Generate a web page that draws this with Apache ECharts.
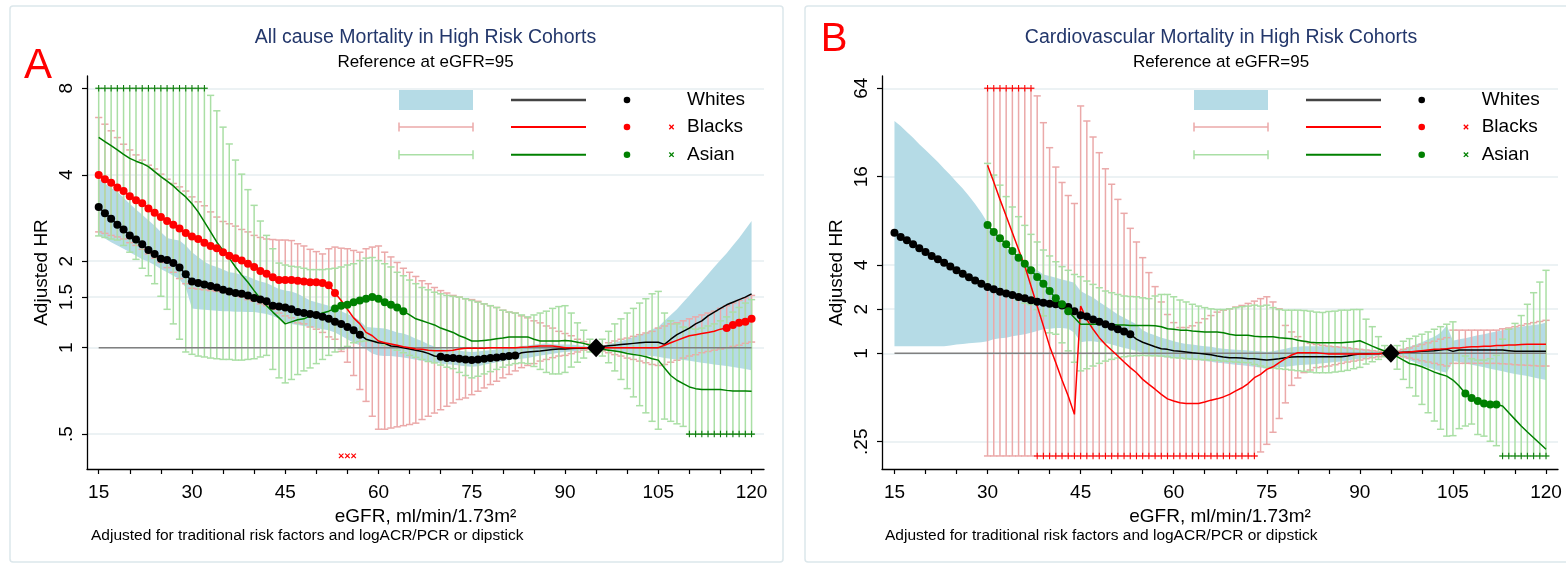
<!DOCTYPE html>
<html><head><meta charset="utf-8">
<script src="https://cdn.jsdelivr.net/npm/echarts@6/dist/echarts.min.js"></script>
<style>html,body{margin:0;padding:0;background:#fff}#c{width:1566px;height:566px}</style>
</head><body><div id="c"></div>
<script>
// eGFR grid points (ml/min/1.73m2)
const egfr = [15,16,17,18,19,20,21,22,23,24,25,26,27,28,29,30,31,32,33,34,35,36,37,38,39,40,41,42,43,44,
45,46,47,48,49,50,51,52,53,54,55,56,57,58,59,60,61,62,63,64,65,66,67,68,69,70,71,72,73,74,
75,76,77,78,79,80,81,82,83,84,85,86,87,88,89,90,91,92,93,94,95,96,97,98,99,100,101,102,103,104,
105,106,107,108,109,110,111,112,113,114,115,116,117,118,119,120];

const xLabelTicks = [15,30,45,60,75,90,105,120];
const xAllTicks = [15,20,25,30,35,40,45,50,55,60,65,70,75,80,85,90,95,100,105,110,115,120];
const yTicksA = [0.5,1,1.5,2,4,8];
const yLabelsA = ['.5','1','1.5','2','4','8'];
const yTicksB = [0.25,1,2,4,16,64];
const yLabelsB = ['.25','1','2','4','16','64'];

// ---------- Panel A: All cause mortality ----------
const whitesA_est = [3.09,2.94,2.81,2.68,2.58,2.46,2.38,2.29,2.19,2.12,
2.04,2.02,1.97,1.90,1.80,1.70,1.68,1.66,1.64,1.62,
1.59,1.57,1.55,1.54,1.52,1.49,1.47,1.45,1.40,1.39,
1.38,1.36,1.33,1.32,1.31,1.30,1.28,1.26,1.23,1.21,
1.18,1.15,1.11,1.07,1.055,1.04,1.035,1.013,1.01,1.0,
0.99,0.98,0.97,0.955,0.935,0.93,0.92,0.92,0.915,0.91,
0.905,0.91,0.915,0.92,0.925,0.93,0.935,0.94,0.96,0.965,
0.97,0.973,0.98,0.985,0.99,0.99,0.993,0.995,0.995,1.0,
1.0,1.01,1.015,1.02,1.025,1.03,1.035,1.04,1.045,1.045,
1.045,1.027,1.07,1.11,1.14,1.17,1.21,1.24,1.29,1.33,
1.37,1.41,1.44,1.47,1.50,1.54];
const whitesA_hi = [3.88,3.73,3.60,3.49,3.33,3.17,3.03,2.90,2.78,2.66,
2.53,2.41,2.38,2.36,2.27,2.15,2.07,1.99,1.94,1.91,
1.87,1.83,1.82,1.79,1.77,1.73,1.70,1.68,1.64,1.60,
1.58,1.57,1.54,1.50,1.46,1.44,1.42,1.40,1.37,1.34,
1.31,1.28,1.24,1.18,1.175,1.17,1.165,1.15,1.13,1.12,
1.10,1.075,1.055,1.027,1.01,0.99,0.985,0.98,0.975,0.97,
0.965,0.97,0.975,0.98,0.985,0.99,0.995,0.998,1.013,1.018,
1.025,1.03,1.035,1.027,1.025,1.025,1.025,1.02,1.013,1.008,
1.0,1.013,1.03,1.04,1.055,1.07,1.09,1.11,1.13,1.16,
1.18,1.24,1.30,1.36,1.44,1.52,1.61,1.70,1.80,1.91,
2.02,2.13,2.27,2.41,2.58,2.76];
const whitesA_lo = [2.46,2.40,2.33,2.27,2.21,2.15,2.09,2.03,1.99,1.94,
1.88,1.83,1.78,1.73,1.62,1.37,1.36,1.355,1.35,1.345,
1.34,1.338,1.335,1.335,1.33,1.33,1.32,1.31,1.29,1.26,
1.23,1.21,1.20,1.19,1.18,1.17,1.16,1.15,1.13,1.10,
1.07,1.04,1.02,0.987,0.955,0.94,0.935,0.935,0.93,0.925,
0.917,0.907,0.90,0.892,0.887,0.88,0.875,0.872,0.867,0.862,
0.858,0.862,0.872,0.88,0.89,0.897,0.905,0.91,0.915,0.92,
0.93,0.94,0.945,0.953,0.96,0.965,0.97,0.975,0.98,0.99,
1.0,0.987,0.98,0.97,0.965,0.96,0.952,0.945,0.94,0.935,
0.93,0.92,0.915,0.91,0.905,0.90,0.893,0.886,0.88,0.874,
0.868,0.863,0.856,0.85,0.843,0.835];

const blacksA_est = [3.99,3.86,3.75,3.61,3.51,3.37,3.26,3.18,3.05,2.95,
2.85,2.76,2.68,2.60,2.51,2.44,2.39,2.32,2.26,2.22,
2.15,2.09,2.05,2.01,1.96,1.91,1.85,1.81,1.76,1.72,
1.72,1.72,1.71,1.70,1.69,1.69,1.68,1.65,1.55,1.46,
1.36,1.27,1.21,1.13,1.10,1.055,1.04,1.03,1.02,1.008,
1.0,0.99,0.987,0.98,0.976,0.976,0.976,0.98,0.99,0.995,
0.995,0.995,0.995,1.0,1.0,1.0,1.0,1.0,1.003,1.005,
1.01,1.013,1.013,1.013,1.008,1.0,1.0,1.0,1.0,1.0,
1.0,1.0,1.0,1.0,1.0,1.0,1.0,1.0,1.0,1.0,
1.0,1.02,1.04,1.06,1.08,1.10,1.11,1.12,1.13,1.14,
1.16,1.17,1.20,1.22,1.23,1.26];
const blacksA_hi = [6.33,6.00,5.69,5.39,5.11,4.88,4.69,4.50,4.32,4.19,
4.02,3.86,3.73,3.63,3.51,3.35,3.22,3.12,2.97,2.85,
2.75,2.70,2.65,2.58,2.53,2.46,2.42,2.39,2.38,2.37,
2.37,2.36,2.30,2.26,2.20,2.16,2.12,2.21,2.24,2.22,
2.21,2.18,2.15,2.21,2.24,2.26,2.15,2.07,1.98,1.89,
1.83,1.77,1.71,1.67,1.62,1.58,1.55,1.52,1.50,1.48,
1.47,1.45,1.42,1.40,1.38,1.35,1.33,1.32,1.29,1.27,
1.24,1.22,1.19,1.17,1.14,1.12,1.10,1.07,1.05,1.03,
1.0,1.013,1.04,1.055,1.07,1.08,1.095,1.11,1.125,1.14,
1.17,1.19,1.21,1.22,1.24,1.26,1.28,1.30,1.32,1.34,
1.37,1.40,1.43,1.46,1.49,1.52];
const blacksA_lo = [2.53,2.50,2.46,2.43,2.39,2.32,2.27,2.20,2.12,2.05,
1.98,1.90,1.83,1.74,1.67,1.61,1.60,1.59,1.58,1.57,
1.56,1.54,1.52,1.50,1.47,1.45,1.42,1.40,1.36,1.32,
1.29,1.27,1.22,1.21,1.18,1.16,1.13,1.09,1.07,0.97,
0.89,0.80,0.715,0.65,0.577,0.52,0.52,0.525,0.53,0.535,
0.54,0.546,0.562,0.577,0.592,0.608,0.625,0.642,0.66,0.668,
0.686,0.705,0.724,0.744,0.764,0.785,0.807,0.83,0.852,0.867,
0.88,0.898,0.91,0.923,0.935,0.94,0.953,0.966,0.98,0.987,
1.0,0.974,0.96,0.946,0.935,0.92,0.91,0.898,0.886,0.874,
0.867,0.874,0.89,0.904,0.92,0.935,0.945,0.96,0.97,0.98,
0.99,1.0,1.01,1.02,1.035,1.046];

const asianA_est = [5.40,5.22,5.05,4.88,4.71,4.56,4.46,4.38,4.27,4.10,
3.94,3.80,3.66,3.49,3.35,3.17,2.97,2.74,2.53,2.33,
2.18,2.05,1.91,1.79,1.69,1.58,1.48,1.40,1.33,1.27,
1.21,1.23,1.25,1.26,1.29,1.30,1.32,1.34,1.37,1.40,
1.41,1.44,1.46,1.48,1.50,1.48,1.44,1.41,1.38,1.34,
1.30,1.26,1.24,1.22,1.20,1.17,1.15,1.13,1.10,1.08,
1.055,1.055,1.06,1.065,1.075,1.08,1.09,1.09,1.09,1.09,
1.07,1.055,1.055,1.055,1.055,1.06,1.055,1.045,1.035,1.02,
1.0,0.987,0.98,0.973,0.965,0.955,0.947,0.94,0.93,0.915,
0.905,0.85,0.80,0.77,0.75,0.73,0.72,0.715,0.715,0.715,
0.715,0.71,0.706,0.706,0.706,0.705];
const asianA_hi = [8,8,8,8,8,8,8,8,8,8,
8,8,8,8,8,8,8,8,7.56,6.68,
5.86,5.12,4.50,4.02,3.55,3.13,2.76,2.46,2.21,1.97,
1.94,1.92,1.91,1.89,1.87,1.87,1.87,1.88,1.89,1.91,
1.94,1.96,2.01,2.05,2.06,2.01,1.96,1.91,1.83,1.78,
1.72,1.67,1.62,1.59,1.56,1.54,1.52,1.51,1.50,1.48,
1.46,1.44,1.42,1.40,1.38,1.35,1.33,1.32,1.30,1.28,
1.30,1.32,1.34,1.37,1.39,1.40,1.32,1.22,1.15,1.07,
1.0,1.07,1.14,1.21,1.26,1.32,1.37,1.43,1.48,1.54,
1.57,1.32,1.24,1.21,1.18,1.17,1.16,1.17,1.19,1.21,
1.24,1.28,1.33,1.38,1.43,1.47];
const asianA_lo = [2.45,2.42,2.39,2.37,2.27,2.15,2.03,1.89,1.78,1.67,
1.51,1.36,1.21,1.07,0.966,0.948,0.935,0.928,0.92,0.915,
0.91,0.91,0.905,0.905,0.91,0.915,0.928,0.94,0.84,0.785,
0.754,0.775,0.806,0.83,0.85,0.88,0.91,0.94,0.966,0.99,
1.01,1.04,1.05,1.055,1.055,1.04,1.02,1.0,0.98,0.96,
0.94,0.925,0.91,0.895,0.885,0.87,0.855,0.845,0.82,0.80,
0.785,0.795,0.81,0.825,0.84,0.855,0.87,0.88,0.885,0.88,
0.86,0.84,0.82,0.81,0.81,0.82,0.856,0.89,0.92,0.966,
1.0,0.935,0.886,0.83,0.775,0.72,0.674,0.628,0.593,0.554,
0.52,0.564,0.554,0.543,0.532,0.5,0.5,0.5,0.5,0.5,
0.5,0.5,0.5,0.5,0.5,0.5];

// significant points (drawn as dots): ranges of eGFR
const whitesDotsA = [[15,57],[70,82]];
const blacksDotsA = [[15,53],[116,120]];
const asianDotsA = [[53,64]];
// CI truncation markers
const asianTopA = [15,16,17,18,19,20,21,22,23,24,25,26,27,28,29,30,31,32];  // at 8
const asianBotA = [110,111,112,113,114,115,116,117,118,119,120];            // at .5
const blacksCrossA = [54,55,56];                                            // at .42

// ---------- Panel B: Cardiovascular mortality ----------
const whitesB_est = [6.64,6.21,5.89,5.53,5.20,4.91,4.61,4.37,4.15,3.90,
3.68,3.49,3.30,3.14,2.98,2.83,2.73,2.63,2.56,2.50,
2.42,2.37,2.30,2.25,2.21,2.18,2.16,2.12,2.07,1.94,
1.82,1.78,1.70,1.64,1.58,1.52,1.46,1.41,1.35,1.25,
1.19,1.15,1.11,1.076,1.065,1.043,1.032,1.021,1.01,1.0,
0.99,0.98,0.959,0.944,0.934,0.934,0.929,0.92,0.92,0.91,
0.90,0.91,0.92,0.934,0.944,0.949,0.949,0.949,0.949,0.949,
0.949,0.949,0.949,0.959,0.98,0.99,0.99,0.995,0.995,1.0,
1.0,1.01,1.016,1.021,1.026,1.032,1.037,1.043,1.054,1.065,
1.032,1.054,1.054,1.054,1.054,1.054,1.054,1.054,1.054,1.043,
1.032,1.032,1.032,1.032,1.032,1.032];
const whitesB_hi = [38.3,35.4,32.2,29.5,26.6,24.3,22.1,20.1,18.1,16.4,
14.7,13.3,11.8,10.4,9.09,7.77,6.64,5.83,5.25,4.85,
4.49,4.15,3.90,3.68,3.45,3.37,3.28,3.19,3.11,3.03,
2.66,2.52,2.40,2.24,2.10,1.97,1.84,1.75,1.66,1.58,
1.44,1.37,1.33,1.28,1.25,1.21,1.18,1.16,1.15,1.13,
1.12,1.11,1.09,1.076,1.065,1.059,1.054,1.048,1.037,1.032,
1.021,1.032,1.054,1.076,1.099,1.11,1.12,1.12,1.12,1.12,
1.12,1.12,1.11,1.11,1.09,1.076,1.065,1.054,1.037,1.021,
1.0,1.037,1.076,1.11,1.15,1.19,1.25,1.30,1.38,1.55,
1.22,1.25,1.27,1.30,1.33,1.35,1.38,1.41,1.44,1.47,
1.50,1.52,1.54,1.56,1.58,1.62];
const whitesB_lo = [1.12,1.12,1.12,1.12,1.12,1.12,1.12,1.12,1.12,1.13,
1.15,1.16,1.17,1.18,1.19,1.21,1.25,1.27,1.28,1.31,
1.33,1.35,1.38,1.42,1.46,1.47,1.49,1.49,1.47,1.38,
1.19,1.21,1.21,1.19,1.18,1.15,1.12,1.09,1.065,1.037,
1.01,0.969,0.959,0.949,0.934,0.929,0.92,0.91,0.90,0.896,
0.886,0.877,0.864,0.855,0.846,0.837,0.829,0.82,0.811,0.799,
0.786,0.795,0.803,0.811,0.82,0.829,0.837,0.841,0.846,0.855,
0.864,0.873,0.882,0.891,0.91,0.92,0.934,0.949,0.969,0.984,
1.0,0.969,0.934,0.90,0.864,0.829,0.799,0.778,0.754,0.738,
0.886,0.873,0.855,0.837,0.82,0.803,0.786,0.77,0.754,0.738,
0.723,0.712,0.70,0.686,0.672,0.658];

const blacksB_est = [null,null,null,null,null,null,null,null,null,null,
null,null,null,null,null,19.1,14.7,11.2,8.63,6.64,
5.11,3.94,2.88,2.10,1.54,1.12,0.864,0.658,0.512,0.384,
2.10,1.70,1.46,1.28,1.15,1.05,0.96,0.873,0.80,0.738,
0.665,0.615,0.57,0.526,0.49,0.474,0.461,0.456,0.456,0.456,
0.466,0.48,0.49,0.505,0.526,0.555,0.583,0.623,0.683,0.72,
0.778,0.81,0.864,0.92,0.975,1.01,1.01,1.01,1.01,1.0,
0.99,0.99,0.99,0.99,0.99,0.99,0.99,0.995,0.995,1.0,
1.0,1.01,1.016,1.021,1.032,1.043,1.054,1.065,1.07,1.076,
1.087,1.09,1.099,1.11,1.11,1.12,1.12,1.13,1.13,1.14,
1.14,1.15,1.155,1.155,1.155,1.155];
const blacksB_hi = [null,null,null,null,null,null,null,null,null,null,
null,null,null,null,null,64,64,64,64,64,
64,64,64,56.8,37.3,25.2,18.6,14.6,11.9,10.5,
48.5,38.3,29.8,23.3,18.1,14.2,11.2,9.0,7.11,5.74,
4.49,3.55,2.85,2.24,1.84,1.62,1.50,1.50,1.54,1.62,
1.72,1.81,1.91,1.97,2.01,2.07,2.12,2.19,2.27,2.36,
2.43,2.24,2.01,1.55,1.40,1.30,1.21,1.17,1.15,1.135,
1.12,1.11,1.10,1.09,1.076,1.065,1.054,1.043,1.032,1.016,
1.0,1.037,1.065,1.09,1.12,1.15,1.18,1.21,1.25,1.28,
1.44,1.44,1.44,1.44,1.44,1.44,1.44,1.44,1.47,1.49,
1.52,1.55,1.59,1.62,1.65,1.68];
const blacksB_lo = [null,null,null,null,null,null,null,null,null,null,
null,null,null,null,null,0.2,0.2,0.2,0.2,0.2,
0.2,0.2,0.2,0.2,0.2,0.2,0.2,0.2,0.2,0.2,
0.2,0.2,0.2,0.2,0.2,0.2,0.2,0.2,0.2,0.2,
0.2,0.2,0.2,0.2,0.2,0.2,0.2,0.2,0.2,0.2,
0.2,0.2,0.2,0.2,0.2,0.2,0.2,0.2,0.2,0.213,
0.24,0.29,0.36,0.46,0.605,0.68,0.74,0.77,0.80,0.81,
0.82,0.837,0.855,0.873,0.886,0.90,0.92,0.934,0.949,0.969,
1.0,0.969,0.949,0.929,0.91,0.891,0.873,0.855,0.837,0.82,
0.855,0.855,0.855,0.855,0.855,0.855,0.855,0.855,0.85,0.846,
0.837,0.833,0.829,0.825,0.82,0.82];

const asianB_est = [null,null,null,null,null,null,null,null,null,null,
null,null,null,null,null,7.49,6.71,6.08,5.53,4.98,
4.49,4.08,3.68,3.31,2.98,2.66,2.37,2.16,1.94,1.75,
1.58,1.58,1.58,1.58,1.57,1.57,1.56,1.56,1.55,1.55,
1.55,1.55,1.54,1.52,1.47,1.46,1.44,1.44,1.42,1.41,
1.40,1.40,1.40,1.38,1.35,1.33,1.33,1.33,1.31,1.30,
1.30,1.30,1.28,1.27,1.26,1.23,1.21,1.19,1.18,1.18,
1.18,1.18,1.18,1.19,1.20,1.22,1.17,1.12,1.076,1.037,
1.0,0.95,0.90,0.853,0.837,0.81,0.778,0.745,0.72,0.70,
0.658,0.60,0.533,0.496,0.473,0.456,0.449,0.449,0.438,0.394,
0.355,0.32,0.291,0.266,0.243,0.222];
const asianB_hi = [null,null,null,null,null,null,null,null,null,null,
null,null,null,null,null,19.7,16.4,14.0,11.7,9.94,
8.54,7.45,6.47,5.74,5.06,4.61,4.21,3.90,3.68,3.45,
3.33,3.11,2.95,2.80,2.66,2.59,2.52,2.46,2.44,2.43,
2.39,2.36,2.46,2.52,2.52,2.43,2.31,2.24,2.16,2.10,
2.05,2.01,1.99,1.99,2.01,2.05,2.08,2.10,2.13,2.10,
2.13,2.05,1.99,1.97,1.97,1.97,1.96,1.94,1.91,1.90,
1.93,1.94,1.97,1.97,1.99,1.99,1.71,1.52,1.30,1.13,
1.0,1.13,1.21,1.26,1.31,1.35,1.40,1.46,1.52,1.58,
1.64,1.05,0.96,0.92,0.90,0.90,0.92,0.97,1.25,1.46,
1.60,1.81,2.16,2.59,3.06,3.68];
const asianB_lo = [null,null,null,null,null,null,null,null,null,null,
null,null,null,null,null,2.9,2.75,2.6,2.5,2.4,
2.3,2.2,2.15,1.99,1.80,1.38,1.35,1.18,1.04,0.87,
0.76,0.786,0.82,0.855,0.886,0.91,0.93,0.949,0.959,0.964,
0.969,0.964,0.962,0.959,0.95,0.934,0.93,0.92,0.915,0.91,
0.905,0.90,0.895,0.886,0.88,0.873,0.868,0.864,0.84,0.82,
0.803,0.795,0.786,0.778,0.77,0.762,0.754,0.746,0.738,0.738,
0.738,0.746,0.754,0.766,0.786,0.803,0.846,0.877,0.91,0.949,
1.0,0.78,0.665,0.584,0.512,0.449,0.394,0.346,0.304,0.273,
0.275,0.307,0.32,0.33,0.28,0.273,0.252,0.235,0.2,0.2,
0.2,0.2,0.2,0.2,0.2,0.2];

const whitesDotsB = [[15,53]];
const blacksDotsB = [];
const asianDotsB = [[30,43],[107,112]];
const blacksTopB = [30,31,32,33,34,35,36,37];                 // at 64
const blacksBotB = [38,39,40,41,42,43,44,45,46,47,48,49,50,51,52,53,54,55,56,
57,58,59,60,61,62,63,64,65,66,67,68,69,70,71,72,73];           // at .2
const asianBotB = [113,114,115,116,117,118,119,120];          // at .2

const refPoint = [95, 1];
const refLine = [[15, 1], [120, 1]];

// ---------------- rendering ----------------
const FONT = "'Liberation Sans', Arial, sans-serif";
const C = {black:'#000000', red:'#ff0000', green:'#008000', pink:'#eba9a9', lgreen:'#aadfa5',
  band:'#b5dbe6', grid:'#e6eef1', title:'#23376b', ref:'#808080', frame:'#dce7eb'};
const PLUS = 'path://M2.5,0h1v2.5h2.5v1h-2.5v2.5h-1v-2.5h-2.5v-1h2.5z';

function pairs(est){ const out=[]; egfr.forEach((x,i)=>{ if(est[i]!=null) out.push([x,est[i]]); }); return out; }
function triples(lo,hi){ const out=[]; egfr.forEach((x,i)=>{ if(lo[i]!=null&&hi[i]!=null) out.push([x,lo[i],hi[i]]); }); return out; }
function dots(est, ranges){ const out=[]; egfr.forEach((x,i)=>{ if(est[i]==null) return; for(const r of ranges){ if(x>=r[0]&&x<=r[1]){ out.push([x,est[i]]); break; } } }); return out; }
function marks(xs, y){ return xs.map(x=>[x,y]); }

function barRender(color){
  return function(params, api){
    const x=api.value(0), lo=api.value(1), hi=api.value(2);
    const a=api.coord([x,hi]), b=api.coord([x,lo]);
    const hw=3.6, st={stroke:color, lineWidth:1.5};
    return {type:'group', children:[
      {type:'line', shape:{x1:a[0],y1:a[1],x2:b[0],y2:b[1]}, style:st},
      {type:'line', shape:{x1:a[0]-hw,y1:a[1],x2:a[0]+hw,y2:a[1]}, style:st},
      {type:'line', shape:{x1:b[0]-hw,y1:b[1],x2:b[0]+hw,y2:b[1]}, style:st}
    ]};
  };
}
function bandRender(lo, hi){
  return function(params, api){
    if(params.dataIndex!==0) return null;
    const pts=[];
    for(let i=0;i<egfr.length;i++) if(hi[i]!=null) pts.push(api.coord([egfr[i],hi[i]]));
    for(let i=egfr.length-1;i>=0;i--) if(lo[i]!=null) pts.push(api.coord([egfr[i],lo[i]]));
    return {type:'polygon', shape:{points:pts}, style:{fill:C.band}};
  };
}
function yFmt(ticks, labels){
  return function(v){ let bi=0; for(let i=0;i<ticks.length;i++){ if(Math.abs(Math.log(ticks[i]/v))<Math.abs(Math.log(ticks[bi]/v))) bi=i; } return labels[bi]; };
}

const panels = [
 {grid:{left:87,top:76,width:677,height:393}, xMin:13.12, xMax:122.0, yMin:0.378, yMax:8.83,
  yTicks:yTicksA, yLabels:yLabelsA,
  W:[whitesA_est,whitesA_lo,whitesA_hi], B:[blacksA_est,blacksA_lo,blacksA_hi], A:[asianA_est,asianA_lo,asianA_hi],
  dots:[whitesDotsA,blacksDotsA,asianDotsA],
  marks:[{d:marks(asianTopA,8),c:'#0b7a0b',r:0},{d:marks(asianBotA,0.5),c:'#0b7a0b',r:0},{d:marks(blacksCrossA,0.42),c:C.red,r:45}]},
 {grid:{left:882,top:76,width:676,height:393}, xMin:12.99, xMax:121.93, yMin:0.163, yMax:77.6,
  yTicks:yTicksB, yLabels:yLabelsB,
  W:[whitesB_est,whitesB_lo,whitesB_hi], B:[blacksB_est,blacksB_lo,blacksB_hi], A:[asianB_est,asianB_lo,asianB_hi],
  dots:[whitesDotsB,blacksDotsB,asianDotsB],
  marks:[{d:marks(blacksTopB,64),c:C.red,r:0},{d:marks(blacksBotB,0.2),c:C.red,r:0},{d:marks(asianBotB,0.2),c:'#0b7a0b',r:0}]}
];

const option = {animation:false, backgroundColor:'#fff', textStyle:{fontFamily:FONT},
  grid:[], xAxis:[], yAxis:[], series:[], graphic:[]};

panels.forEach((p,i)=>{
  option.grid.push(Object.assign({containLabel:false}, p.grid));
  option.xAxis.push({type:'value', gridIndex:i, min:p.xMin, max:p.xMax,
    name:'eGFR, ml/min/1.73m\u00b2', nameLocation:'middle', nameGap:33,
    nameTextStyle:{fontSize:19, color:'#000', fontFamily:FONT},
    axisLine:{show:true, onZero:false, lineStyle:{color:'#000', width:1.3}},
    axisTick:{show:true, inside:false, length:5, customValues:xAllTicks, lineStyle:{color:'#000', width:1.2}},
    axisLabel:{show:true, customValues:xLabelTicks, margin:14, fontSize:19, color:'#000', fontFamily:FONT},
    splitLine:{show:false}});
  option.yAxis.push({type:'log', logBase:2, gridIndex:i, min:p.yMin, max:p.yMax,
    name:'Adjusted HR', nameLocation:'middle', nameGap:36, nameRotate:90,
    nameTextStyle:{fontSize:19, color:'#000', fontFamily:FONT},
    axisLine:{show:true, lineStyle:{color:'#000', width:1.3}},
    axisTick:{show:true, length:5, customValues:p.yTicks, lineStyle:{color:'#000', width:1.2}},
    axisLabel:{show:true, customValues:p.yTicks, rotate:90, margin:11, fontSize:19, color:'#000', fontFamily:FONT, formatter:yFmt(p.yTicks,p.yLabels)},
    splitLine:{show:true, lineStyle:{color:C.grid, width:1.5}}, minorTick:{show:false}, minorSplitLine:{show:false}});
  const ax={xAxisIndex:i, yAxisIndex:i};
  option.series.push(Object.assign({type:'custom', name:'Whites CI', renderItem:bandRender(p.W[1],p.W[2]), data:triples(p.W[1],p.W[2]), encode:{x:0,y:[1,2]}, z:1, silent:true}, ax));
  option.series.push(Object.assign({type:'custom', name:'Blacks CI', renderItem:barRender(C.pink), data:triples(p.B[1],p.B[2]), encode:{x:0,y:[1,2]}, z:2, silent:true}, ax));
  option.series.push(Object.assign({type:'custom', name:'Asian CI', renderItem:barRender(C.lgreen), data:triples(p.A[1],p.A[2]), encode:{x:0,y:[1,2]}, z:3, silent:true}, ax));
  option.series.push(Object.assign({type:'line', data:refLine, symbol:'none', lineStyle:{color:C.ref, width:1.5}, z:4, silent:true}, ax));
  [[p.W[0],C.black],[p.B[0],C.red],[p.A[0],C.green]].forEach(([est,col])=>{
    option.series.push(Object.assign({type:'line', data:pairs(est), symbol:'none', lineStyle:{color:col, width:1.5}, z:5, silent:true}, ax));
  });
  [[p.W[0],C.black,p.dots[0]],[p.B[0],C.red,p.dots[1]],[p.A[0],C.green,p.dots[2]]].forEach(([est,col,r])=>{
    option.series.push(Object.assign({type:'scatter', data:dots(est,r), symbol:'circle', symbolSize:8, itemStyle:{color:col, opacity:1}, z:6, silent:true}, ax));
  });
  p.marks.forEach(m=>{
    option.series.push(Object.assign({type:'scatter', data:m.d, symbol:PLUS, symbolSize:6.5, symbolRotate:m.r, itemStyle:{color:m.c, opacity:1}, z:6, silent:true}, ax));
  });
  option.series.push(Object.assign({type:'scatter', data:[refPoint], symbol:'diamond', symbolSize:[18,19], itemStyle:{color:'#000', opacity:1}, z:7, silent:true}, ax));
});

// ---- texts, frames & legends ----
function txt(x,y,text,size,color,align,extra){
  return Object.assign({type:'text', x:x, y:y, silent:true, style:{text:text, fontSize:size, fontFamily:FONT, fill:color||'#000', align:align||'center', verticalAlign:'middle'}}, extra||{});
}
const G = option.graphic;
G.push({type:'rect', shape:{x:10,y:6,width:773,height:556,r:3}, style:{fill:'none', stroke:C.frame, lineWidth:1.5}, silent:true, z:-10});
G.push({type:'rect', shape:{x:805,y:6,width:770,height:556,r:3}, style:{fill:'none', stroke:C.frame, lineWidth:1.5}, silent:true, z:-10});
G.push(txt(38,66,'A',42,'#ff0000'));
G.push(txt(834,40,'B',40,'#ff0000'));
G.push(txt(425.5,38,'All cause Mortality in High Risk Cohorts',19.5,C.title));
G.push(txt(1221,38,'Cardiovascular Mortality in High Risk Cohorts',19.5,C.title));
G.push(txt(425.5,62.5,'Reference at eGFR=95',17));
G.push(txt(1221,62.5,'Reference at eGFR=95',17));
G.push(txt(91,536,'Adjusted for traditional risk factors and logACR/PCR or dipstick',15.5,'#000','left'));
G.push(txt(885,536,'Adjusted for traditional risk factors and logACR/PCR or dipstick',15.5,'#000','left'));

function legend(bx, lx, dx, xx, tx){
  const rows=[100,127,154.7];
  G.push({type:'rect', shape:{x:bx,y:90,width:74,height:20}, style:{fill:C.band}, silent:true});
  [[C.pink,rows[1]],[C.lgreen,rows[2]]].forEach(([c,y])=>{
    G.push({type:'line', shape:{x1:bx,y1:y,x2:bx+74,y2:y}, style:{stroke:c,lineWidth:1.5}, silent:true});
    G.push({type:'line', shape:{x1:bx,y1:y-4.5,x2:bx,y2:y+4.5}, style:{stroke:c,lineWidth:1.5}, silent:true});
    G.push({type:'line', shape:{x1:bx+74,y1:y-4.5,x2:bx+74,y2:y+4.5}, style:{stroke:c,lineWidth:1.5}, silent:true});
  });
  [['#444',rows[0],2.5],[C.red,rows[1],2],[C.green,rows[2],2]].forEach(([c,y,w])=>{
    G.push({type:'line', shape:{x1:lx,y1:y,x2:lx+75,y2:y}, style:{stroke:c,lineWidth:w}, silent:true});
  });
  [[C.black,rows[0]],[C.red,rows[1]],[C.green,rows[2]]].forEach(([c,y])=>{
    G.push({type:'circle', shape:{cx:dx,cy:y,r:3.3}, style:{fill:c}, silent:true});
  });
  [[C.red,rows[1]],[C.green,rows[2]]].forEach(([c,y])=>{
    G.push({type:'line', shape:{x1:xx-2.2,y1:y-2.2,x2:xx+2.2,y2:y+2.2}, style:{stroke:c,lineWidth:1.3}, silent:true});
    G.push({type:'line', shape:{x1:xx-2.2,y1:y+2.2,x2:xx+2.2,y2:y-2.2}, style:{stroke:c,lineWidth:1.3}, silent:true});
  });
  G.push(txt(tx,rows[0],'Whites',19,'#000','left'));
  G.push(txt(tx,rows[1],'Blacks',19,'#000','left'));
  G.push(txt(tx,rows[2],'Asian',19,'#000','left'));
}
legend(399, 511, 627, 671.5, 687);
legend(1194, 1306, 1421.7, 1466, 1481.7);

const chart = echarts.init(document.getElementById('c'), null, {renderer:'canvas'});
chart.setOption(option);
</script></body></html>
